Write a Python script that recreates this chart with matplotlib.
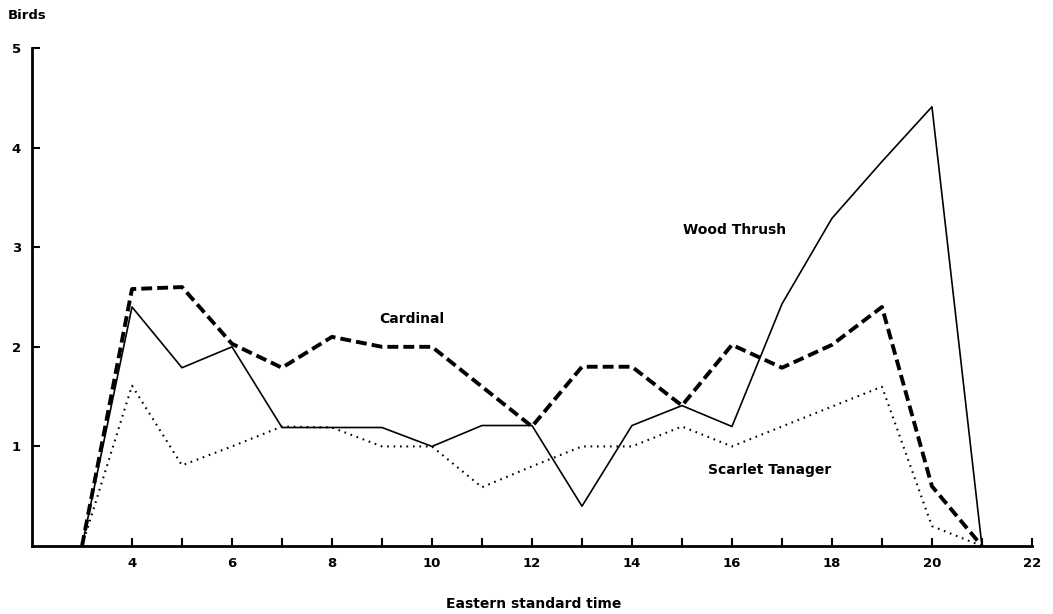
import numpy as np
import matplotlib
matplotlib.use("Agg")
import matplotlib.pyplot as plt

# hours (eastern standard time)
hours = [3, 4, 5, 6, 7, 8, 9, 10, 11, 12, 13, 14, 15, 16, 17, 18, 19, 20, 21]

# birds singing per hour
cardinal = [0, 2.58, 2.6, 2.03, 1.79, 2.1, 2.0, 2.0, 1.6, 1.2, 1.8, 1.8, 1.41, 2.02, 1.79, 2.02, 2.4, 0.6, 0]
wood_thrush = [0, 2.4, 1.79, 2.0, 1.19, 1.19, 1.19, 1.0, 1.21, 1.21, 0.4, 1.21, 1.41, 1.2, 2.43, 3.29, 3.86, 4.41, 0]
scarlet_tanager = [0, 1.61, 0.81, 1.0, 1.2, 1.19, 1.0, 1.0, 0.59, 0.8, 1.0, 1.0, 1.2, 1.0, 1.2, 1.4, 1.6, 0.2, 0]

x_ticks = list(range(4, 23))
x_labels = [str(h) if h % 2 == 0 else "" for h in x_ticks]
y_ticks = [1, 2, 3, 4, 5]

fig = plt.figure(figsize=(10.53, 6.14), dpi=100)
ax = fig.add_axes([0.0304, 0.1107, 0.9496, 0.8111])

ax.plot(hours, cardinal, color="black", lw=2.8, linestyle=(0, (2.8, 1.3)))
ax.plot(hours, wood_thrush, color="black", lw=1.2)
ax.plot(hours, scarlet_tanager, color="black", lw=1.5, linestyle=(0, (0.8, 2.3)))

lab = dict(fontsize=10, fontweight="semibold", ha="center", va="center", fontstretch="expanded")
ax.text(9.6, 2.28, "Cardinal", **lab)
ax.text(16.05, 3.17, "Wood Thrush", **lab)
ax.text(16.75, 0.76, "Scarlet Tanager", **lab)

ax.set_xlim(2, 22)
ax.set_ylim(0, 5)
ax.set_xticks(x_ticks)
ax.set_xticklabels(x_labels, fontsize=9.5, fontweight="bold")
ax.set_yticks(y_ticks)
ax.set_yticklabels([str(v) for v in y_ticks], fontsize=9.5, fontweight="bold")
ax.tick_params(axis="x", direction="in", length=6, width=1.5, pad=8)
ax.tick_params(axis="y", direction="in", length=6, width=1.5, pad=8)

for s in ["top", "right"]:
    ax.spines[s].set_visible(False)
ax.spines["left"].set_linewidth(2)
ax.spines["bottom"].set_linewidth(2)

fig.text(0.007, 0.975, "Birds", fontsize=9.5, fontweight="semibold", ha="left", va="center")
fig.text(0.507, 0.017, "Eastern standard time", fontsize=10, fontweight="semibold",
         ha="center", va="center")

fig.savefig("out.png", dpi=100)
